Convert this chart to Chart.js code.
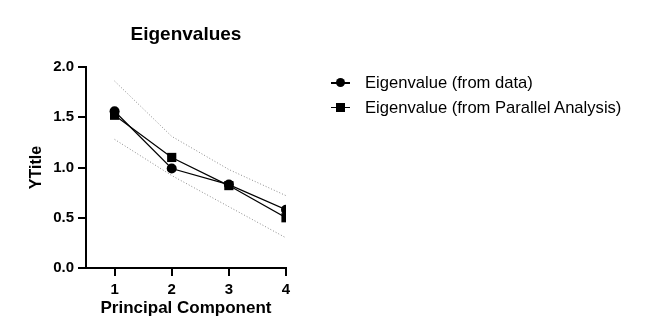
<!DOCTYPE html>
<html>
<head>
<meta charset="utf-8">
<script src="https://cdn.jsdelivr.net/npm/chart.js@4/dist/chart.umd.min.js"></script>
<style>
  html, body { margin: 0; padding: 0; background: #fff; }
  #wrap { position: relative; width: 649px; height: 336px; }
  #c { position: absolute; left: 0; top: 0; }
  .leg { position: absolute; left: 331px; height: 20px; font: 16.6px "Liberation Sans", Arial, sans-serif; color: #000; white-space: nowrap; }
  .leg .ln { position: absolute; left: 0; top: 9px; width: 19px; height: 1.5px; background: #000; }
  .leg .mk { position: absolute; left: 5px; top: 5px; width: 9px; height: 9px; background: #000; }
  .leg .mk.circ { border-radius: 50%; }
  .leg .tx { position: absolute; left: 34px; top: 0; line-height: 20px; }
</style>
</head>
<body>
<div id="wrap">
  <canvas id="c" width="649" height="336"></canvas>
  <div class="leg" style="top:73px"><span class="ln"></span><span class="mk circ"></span><span class="tx" id="l0"></span></div>
  <div class="leg" style="top:97.5px"><span class="ln"></span><span class="mk"></span><span class="tx" id="l1"></span></div>
</div>
<script>
const components = [1, 2, 3, 4];
const eigenData = [1.56, 0.99, 0.83, 0.58];
const eigenParallel = [1.52, 1.10, 0.82, 0.50];
const upperBand = [1.86, 1.31, 0.98, 0.72];
const lowerBand = [1.28, 0.92, 0.61, 0.30];
const yTicks = [0, 0.5, 1.0, 1.5, 2.0];
const seriesNames = ['Eigenvalue (from data)', 'Eigenvalue (from Parallel Analysis)'];

document.getElementById('l0').textContent = seriesNames[0];
document.getElementById('l1').textContent = seriesNames[1];

const FONT = '"Liberation Sans", Arial, sans-serif';
const pts = arr => components.map((x, i) => ({ x: x, y: arr[i] }));

new Chart(document.getElementById('c'), {
  type: 'line',
  data: {
    datasets: [
      { label: seriesNames[0], data: pts(eigenData), borderColor: '#000', backgroundColor: '#000',
        borderWidth: 1.2, pointStyle: 'circle', pointRadius: 5, pointBorderWidth: 0, order: 1 },
      { label: seriesNames[1], data: pts(eigenParallel), borderColor: '#000', backgroundColor: '#000',
        borderWidth: 1.2, pointStyle: 'rect', pointRadius: 6.5, pointBorderWidth: 0, order: 2 },
      { label: 'upper', data: pts(upperBand), borderColor: '#8a8a8a', borderWidth: 1,
        borderDash: [1, 2], pointRadius: 0, order: 3 },
      { label: 'lower', data: pts(lowerBand), borderColor: '#8a8a8a', borderWidth: 1,
        borderDash: [1, 2], pointRadius: 0, order: 4 }
    ]
  },
  options: {
    responsive: false,
    animation: false,
    events: [],
    layout: { padding: { left: 0, right: 363, top: 0, bottom: 0 } },
    plugins: {
      legend: { display: false },
      tooltip: { enabled: false },
      title: {
        display: true, text: 'Eigenvalues', fullSize: false, color: '#000',
        font: { family: FONT, size: 19, weight: 'bold' },
        padding: { top: 23.4, bottom: 20.8 }
      }
    },
    scales: {
      x: {
        type: 'linear', min: 0.5, max: 4,
        afterBuildTicks: s => { s.ticks = components.map(v => ({ value: v })); },
        afterFit: s => { s.height = 68; },
        grid: { display: true, drawOnChartArea: false, drawTicks: true, tickLength: 8, color: '#000', lineWidth: 2 },
        border: { display: true, color: '#000', width: 2 },
        ticks: { color: '#000', padding: 5, font: { family: FONT, size: 15, weight: 'bold' },
                 callback: v => String(v) },
        title: { display: true, text: 'Principal Component', color: '#000',
                 font: { family: FONT, size: 17, weight: 'bold' }, padding: { top: 0, bottom: 17.8 } }
      },
      y: {
        min: 0, max: 2,
        afterBuildTicks: s => { s.ticks = yTicks.map(v => ({ value: v })); },
        afterFit: s => { s.width = 86; },
        grid: { display: true, drawOnChartArea: false, drawTicks: true, tickLength: 8, color: '#000', lineWidth: 2 },
        border: { display: true, color: '#000', width: 2 },
        ticks: { color: '#000', padding: 4, font: { family: FONT, size: 15, weight: 'bold' },
                 callback: v => Number(v).toFixed(1) },
        title: { display: true, text: 'YTitle', color: '#000',
                 font: { family: FONT, size: 16, weight: 'bold' }, padding: { top: 27, bottom: 0 } }
      }
    }
  }
});
</script>
</body>
</html>
